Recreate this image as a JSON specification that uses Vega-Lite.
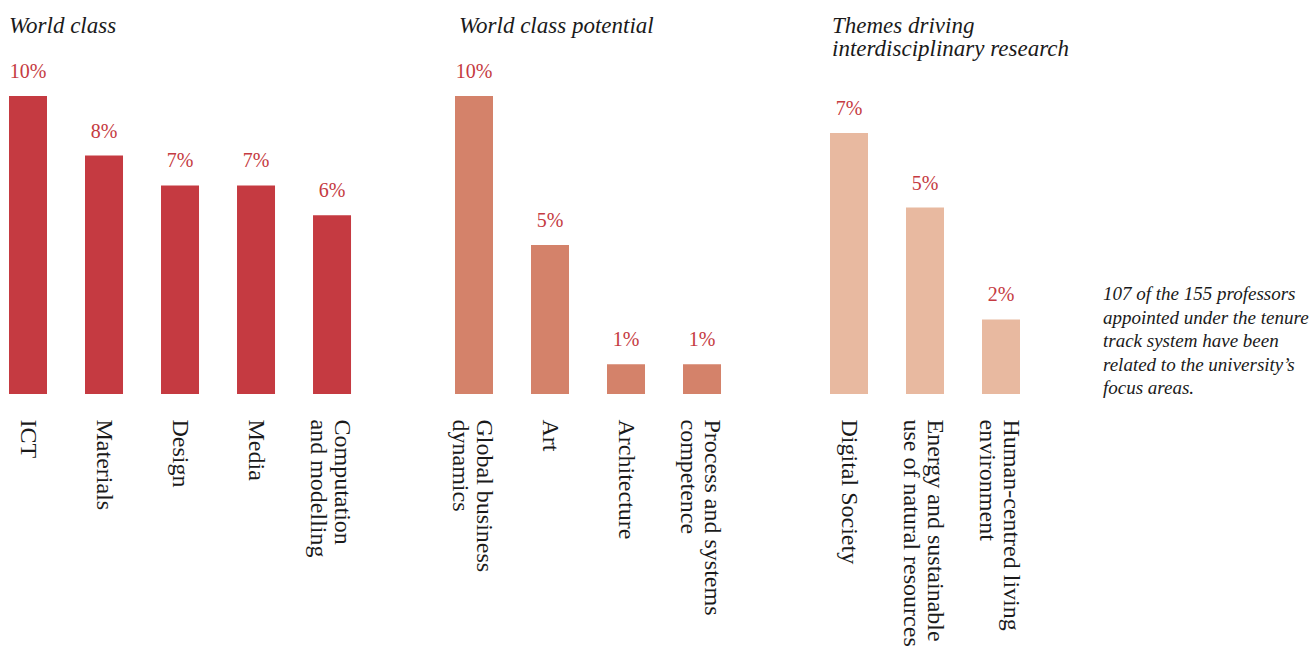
{
  "$schema": "https://vega.github.io/schema/vega-lite/v6.json",
  "background": "white",
  "padding": {"left": 9, "top": 15, "right": 0, "bottom": 0},
  "bounds": "flush",
  "spacing": 0,
  "config": {
    "view": {"stroke": null},
    "font": "Liberation Serif",
    "title": {"anchor": "start", "frame": "group", "font": "Liberation Serif", "fontStyle": "italic", "fontWeight": "normal", "fontSize": 23, "color": "#1a1a1a", "lineHeight": 23},
    "axisX": {"labelAngle": 90, "labelAlign": "left", "labelBaseline": "middle", "labelPadding": 25, "ticks": false, "domain": false, "labelFont": "Liberation Serif", "labelFontSize": 24, "labelColor": "#1a1a1a", "labelLineHeight": 24, "labelLimit": 0, "labelOverlap": false, "labelExpr": "split(datum.label, '\\n')",
      "labelOffset": {"condition": {"test": "indexof(datum.value, '\\n') >= 0", "value": 10}, "value": 0}}
  },
  "datasets": {
    "worldclass": [
      {"area": "ICT", "share": 0.10},
      {"area": "Materials", "share": 0.08},
      {"area": "Design", "share": 0.07},
      {"area": "Media", "share": 0.07},
      {"area": "Computation\nand modelling", "share": 0.06}
    ],
    "potential": [
      {"area": "Global business\ndynamics", "share": 0.10},
      {"area": "Art", "share": 0.05},
      {"area": "Architecture", "share": 0.01},
      {"area": "Process and systems\ncompetence", "share": 0.01}
    ],
    "themes": [
      {"area": "Digital Society", "share": 0.07},
      {"area": "Energy and sustainable\nuse of natural resources", "share": 0.05},
      {"area": "Human-centred living\nenvironment", "share": 0.02}
    ],
    "note": [
      {"note": "107 of the 155 professors\nappointed under the tenure\ntrack system have been\nrelated to the university’s\nfocus areas."}
    ]
  },
  "hconcat": [
    {
      "width": 446, "height": 334,
      "data": {"name": "worldclass"},
      "title": {"text": "World class", "offset": 22},
      "encoding": {
        "x": {"field": "area", "type": "nominal", "sort": null, "title": null, "scale": {"paddingInner": 0.5, "paddingOuter": 0.684, "align": 0}},
        "y": {"field": "share", "type": "quantitative", "scale": {"domain": [0, 0.11208]}, "axis": null}
      },
      "layer": [
        {"mark": {"type": "bar", "color": "#c53a41"}},
        {"mark": {"type": "text", "dy": -18, "baseline": "alphabetic", "color": "#c53a41", "fontSize": 20, "font": "Liberation Serif"},
         "encoding": {"text": {"field": "share", "type": "quantitative", "format": ".0%"}}}
      ]
    },
    {
      "width": 375, "height": 334,
      "data": {"name": "potential"},
      "title": {"text": "World class potential", "offset": 22, "dx": 4},
      "encoding": {
        "x": {"field": "area", "type": "nominal", "sort": null, "title": null, "scale": {"paddingInner": 0.5, "paddingOuter": 0.717, "align": 0}},
        "y": {"field": "share", "type": "quantitative", "scale": {"domain": [0, 0.11208]}, "axis": null}
      },
      "layer": [
        {"mark": {"type": "bar", "color": "#d4826a"}},
        {"mark": {"type": "text", "dy": -18, "baseline": "alphabetic", "color": "#c53a41", "fontSize": 20, "font": "Liberation Serif"},
         "encoding": {"text": {"field": "share", "type": "quantitative", "format": ".0%"}}}
      ]
    },
    {
      "width": 273, "height": 334,
      "data": {"name": "themes"},
      "title": {"text": ["Themes driving", "interdisciplinary research"], "offset": -1, "dx": 2},
      "encoding": {
        "x": {"field": "area", "type": "nominal", "sort": null, "title": null, "scale": {"paddingInner": 0.5, "paddingOuter": 0.546, "align": 0}},
        "y": {"field": "share", "type": "quantitative", "scale": {"domain": [0, 0.08957]}, "axis": null}
      },
      "layer": [
        {"mark": {"type": "bar", "color": "#e8b9a0"}},
        {"mark": {"type": "text", "dy": -18, "baseline": "alphabetic", "color": "#c53a41", "fontSize": 20, "font": "Liberation Serif"},
         "encoding": {"text": {"field": "share", "type": "quantitative", "format": ".0%"}}}
      ]
    },
    {
      "width": 200, "height": 240,
      "data": {"name": "note"},
      "mark": {"type": "text", "align": "left", "baseline": "alphabetic", "lineBreak": "\n", "lineHeight": 23.5, "font": "Liberation Serif", "fontStyle": "italic", "fontSize": 19, "color": "#1a1a1a"},
      "encoding": {
        "x": {"datum": 0, "type": "quantitative", "scale": {"domain": [0, 1]}, "axis": null},
        "y": {"datum": 0, "type": "quantitative", "scale": {"domain": [0, 1]}, "axis": null},
        "text": {"field": "note", "type": "nominal"}
      }
    }
  ]
}
